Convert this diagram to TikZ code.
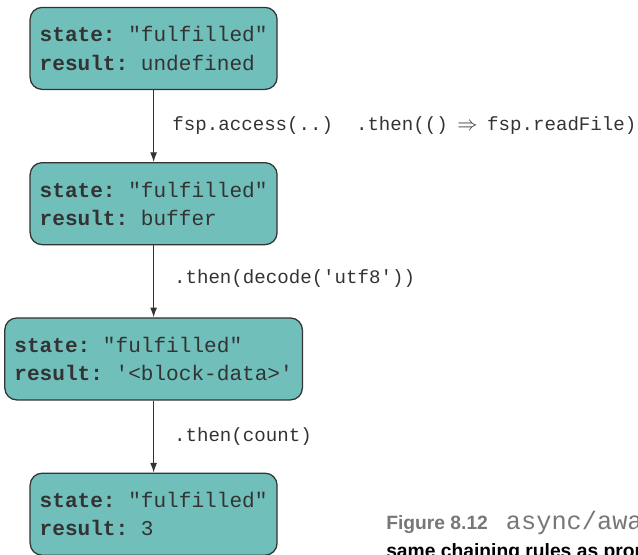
\documentclass[tikz,border=0pt]{standalone}
\usepackage{fontspec}
\setmainfont{Liberation Sans}
\setmonofont{Liberation Mono}
\usepackage{xcolor}
\usepackage{tikz}
\usetikzlibrary{positioning, arrows.meta}
\definecolor{pTeal}{HTML}{70BFBA}
\definecolor{pInk}{HTML}{333333}
\definecolor{capGray}{HTML}{777777}
\tikzset{
  promise/.style={draw=pInk, line width=0.9pt, fill=pTeal, rounded corners=0.3cm,
    minimum width=6.15cm, minimum height=2.05cm, inner xsep=0.24cm, align=left,
    font=\ttfamily\fontsize{15}{20.2}\selectfont, text=pInk},
  chainarrow/.style={-{Latex[length=2.4mm, width=1.7mm]}, line width=0.7pt, pInk},
  chainlabel/.style={font=\ttfamily\fontsize{13.6}{16}\selectfont, text=pInk, inner sep=0pt},
  caption/.style={anchor=base west, inner sep=0pt, font=\bfseries\fontsize{13.7}{16}\selectfont},
}

\begin{document}
\begin{tikzpicture}
  \useasboundingbox (0,0) rectangle (15.95,-13.875);
  \clip (0,0) rectangle (15.95,-13.875);
  % promise chain
  \node[promise] (p1) at (3.84,-1.21) {\textbf{state:} "fulfilled"\\\textbf{result:} undefined};
  \node[promise, below=1.8cm of p1] (p2) {\textbf{state:} "fulfilled"\\\textbf{result:} buffer};
  \node[promise, below=1.8cm of p2] (p3) {\textbf{state:} "fulfilled"\\\textbf{result:} '<block-data>'};
  \node[promise, below=1.8cm of p3] (p4) {\textbf{state:} "fulfilled"\\\textbf{result:} 3};
  \draw[chainarrow] (p1) -- node[chainlabel, midway, right=0.46cm] (l1)
    {fsp.access(..)\ \ .then(()\enspace$\Rightarrow$\enspace fsp.readFile)} (p2);
  \draw[chainarrow] (p2) -- node[chainlabel, midway, right=0.5cm, yshift=0.08cm] (l2)
    {.then(decode('utf8'))} (p3);
  \draw[chainarrow] (p3) -- node[chainlabel, midway, right=0.5cm] (l3)
    {.then(count)} (p4);
  % caption, cut by the frame
  \node[caption, text=capGray] (cap1) at (9.65,-13.225)
    {Figure 8.12\hspace{0.45cm}{\mdseries\ttfamily\fontsize{18}{20}\selectfont async/await}};
  \node[caption, text=black] (cap2) at (9.65,-13.93) {same chaining rules as promises};
\end{tikzpicture}
\end{document}
